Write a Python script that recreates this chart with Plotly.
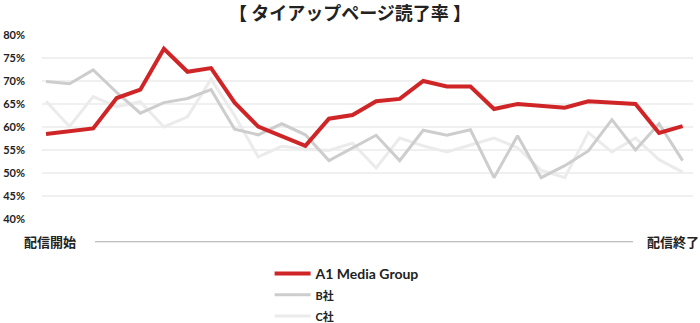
import plotly.graph_objects as go

points = list(range(28))
a1_media = [58.5, 59.1, 59.7, 66.3, 68.1, 77.0, 72.0, 72.8, 65.3, 60.1, 58.0, 55.9, 61.8, 62.6,
            65.6, 66.1, 70.0, 68.8, 68.8, 63.9, 65.0, 64.6, 64.2, 65.6, 65.3, 65.0, 58.7, 60.2]
b_sha = [69.9, 69.4, 72.4, 67.5, 63.0, 65.3, 66.2, 68.1, 59.5, 58.3, 60.7, 58.3, 52.7, 55.4,
         58.2, 52.7, 59.3, 58.2, 59.4, 49.0, 58.1, 49.0, 51.6, 54.8, 61.6, 55.0, 60.7, 52.7]
c_sha = [65.6, 60.1, 66.6, 64.4, 65.5, 60.0, 62.2, 70.4, 62.5, 53.5, 55.8, 55.2, 54.9, 56.5,
         51.1, 57.6, 55.9, 54.6, 56.1, 57.6, 55.5, 50.6, 49.0, 58.8, 54.6, 57.6, 52.9, 50.2]
y_ticks = [40, 45, 50, 55, 60, 65, 70, 75, 80]
y_tick_labels = ["40%", "45%", "50%", "55%", "60%", "65%", "70%", "75%", "80%"]
series_names = ["A1 Media Group", "B社", "C社"]
title_text = "【 タイアップページ読了率 】"
start_label = "配信開始"
end_label = "配信終了"

JP = "Noto Sans CJK JP"
LAT = "Lato"
small = "<span style='font-size:11px'>{}</span>"

fig = go.Figure()
fig.add_trace(go.Scatter(x=points, y=c_sha, mode="lines", name=small.format(series_names[2]),
                         legendgroup="c", legendrank=3, line=dict(color="#ebebeb", width=3)))
fig.add_trace(go.Scatter(x=points, y=b_sha, mode="lines", name=small.format(series_names[1]),
                         legendgroup="b", legendrank=2, line=dict(color="#cdcdcd", width=3)))
fig.add_trace(go.Scatter(x=points, y=a1_media, mode="lines", name=series_names[0],
                         legendgroup="a", legendrank=1, line=dict(color="#d02527", width=4)))

fig.update_layout(
    width=700, height=323,
    margin=dict(l=42, r=7, t=34, b=103, autoexpand=False),
    paper_bgcolor="white", plot_bgcolor="white",
    title=dict(text=title_text, x=0.5, xanchor="center", y=1 - 14/323, yanchor="middle",
               font=dict(family=JP, size=18, color="#222", weight="bold")),
    showlegend=True,
    legend=dict(traceorder="grouped", orientation="v", x=0.3496, xanchor="left",
                y=-0.2044, yanchor="top", itemwidth=36, tracegroupgap=0,
                font=dict(family=LAT + ", " + JP, size=14, color="#222", weight="bold")),
    xaxis=dict(range=[-0.17, 27.44], showgrid=False, zeroline=False, showline=False,
               showticklabels=False, fixedrange=True),
    yaxis=dict(range=[39.8, 80.2], tickvals=y_ticks, ticktext=y_tick_labels, showgrid=True,
               gridcolor="#f0f0f0", gridwidth=1.5, zeroline=False, showline=False,
               ticks="", ticklabelstandoff=16,
               tickfont=dict(family=LAT, size=11, color="#222", weight="bold")),
)

fig.add_shape(type="line", xref="paper", yref="paper", x0=0.0814, x1=0.908,
              y0=-0.117, y1=-0.117, line=dict(color="#aaaaaa", width=1))
fig.add_annotation(text=start_label, xref="paper", yref="paper", x=0.013, y=-0.117,
                   xanchor="center", yanchor="middle", showarrow=False,
                   font=dict(family=JP, size=13, color="#222", weight="bold"))
fig.add_annotation(text=end_label, xref="paper", yref="paper", x=0.970, y=-0.117,
                   xanchor="center", yanchor="middle", showarrow=False,
                   font=dict(family=JP, size=13, color="#222", weight="bold"))

fig.write_html("out.html")
